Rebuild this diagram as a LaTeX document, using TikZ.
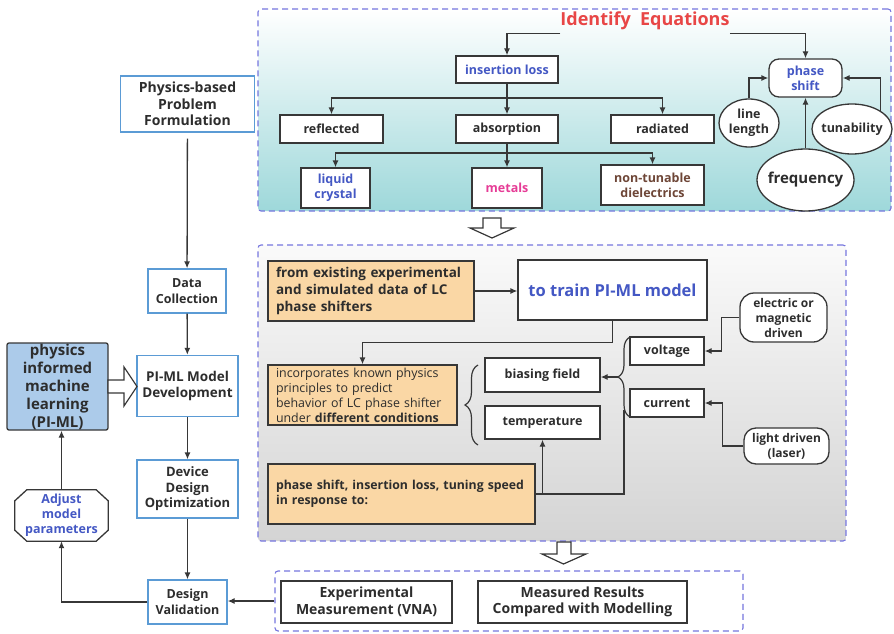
\documentclass[tikz,border=0pt]{standalone}
\usepackage{fontspec}
\setmainfont{Open Sans}
\usetikzlibrary{shapes,arrows.meta,decorations.pathreplacing}

\definecolor{boxblue}{RGB}{91,155,213}
\definecolor{dashblue}{RGB}{118,118,222}
\definecolor{txtdark}{RGB}{45,45,45}
\definecolor{linedark}{RGB}{55,55,55}
\definecolor{txtblue}{RGB}{68,88,196}
\definecolor{titlered}{RGB}{232,70,70}
\definecolor{metalpink}{RGB}{230,60,150}
\definecolor{dielbrown}{RGB}{110,70,55}
\definecolor{boxorange}{RGB}{250,215,165}
\definecolor{pimlfill}{RGB}{172,203,234}
\definecolor{tealbot}{RGB}{158,216,218}
\definecolor{graytop}{RGB}{250,250,250}
\definecolor{graybot}{RGB}{212,212,212}

\newcommand{\fsz}[2]{\fontsize{#1}{#2}\selectfont}

\begin{document}
\begin{tikzpicture}[auto, >={Latex[length=7pt,width=6pt]}, x=1pt, y=-1pt]
	\tikzset{
		panel/.style={rectangle, rounded corners=3pt, draw=dashblue, dash pattern=on 6pt off 4pt, line width=1.1pt, inner sep=0pt},
		flow/.style={rectangle, draw=boxblue, line width=1.3pt, fill=white, align=center, text=txtdark, font=\bfseries\fsz{12.5}{15.5}, inner sep=1pt},
		piml/.style={rectangle, rounded corners=2pt, draw=linedark, line width=1.3pt, fill=pimlfill, align=center, text=txtdark, font=\bfseries\fsz{15}{18}, inner sep=0pt},
		eqbox/.style={rectangle, draw=linedark, line width=1.3pt, fill=white, align=center, text=txtdark, font=\bfseries\fsz{12.5}{15}, inner sep=1pt},
		oval/.style={ellipse, draw=linedark, line width=1.3pt, fill=white, align=center, text=txtdark, font=\bfseries\fsz{12.5}{15}, inner xsep=-6pt, inner ysep=0pt},
		notebox/.style={rectangle, draw=linedark, line width=1.3pt, fill=boxorange, align=left, text=txtdark, font=\bfseries\fsz{12.3}{15}, inner xsep=8pt, inner ysep=0pt},
		conn/.style={->, draw=linedark, line width=1.3pt},
		hollow/.style={draw=linedark, line width=1.2pt, fill=white, line join=miter},
	}
	\useasboundingbox (0,0) rectangle (894,634);
	%Panels
	\node[panel, top color=white, bottom color=tealbot, minimum width=633pt, minimum height=202pt](eqpanel) at (574.5,110){};
	\node[panel, top color=graytop, bottom color=graybot, minimum width=588pt, minimum height=296pt](mlpanel) at (552,393){};
	\node[panel, fill=white, minimum width=468pt, minimum height=60pt](measpanel) at (509,601){};
	%Workflow
	\node[flow, minimum width=134pt, minimum height=56pt, font=\bfseries\fsz{14}{16.5}](prob) at (187.5,104){Physics-based\\Problem\\Formulation};
	\node[flow, minimum width=78pt, minimum height=44pt](data) at (187,291){Data\\Collection};
	\node[flow, minimum width=101pt, minimum height=61pt, font=\bfseries\fsz{13.5}{15.5}](dev) at (187.5,386){PI-ML Model\\Development};
	\node[flow, minimum width=101pt, minimum height=58pt, font=\bfseries\fsz{13}{15.5}](opt) at (187.5,489){Device\\Design\\Optimization};
	\node[flow, minimum width=79pt, minimum height=44pt](valid) at (187.5,602){Design\\Validation};
	\node[piml, minimum width=101pt, minimum height=87pt](piml) at (57.5,386.5){physics\\informed\\machine\\learning\\(PI-ML)};
	\node[align=center, text=txtblue, font=\bfseries\fsz{12.5}{15}, minimum width=93pt, minimum height=51pt, inner sep=0pt](adjust) at (61.5,515.5){Adjust\\model\\parameters};
	\draw[linedark, line width=1.3pt] ([xshift=12pt]adjust.north west) -- ([xshift=-12pt]adjust.north east) -- ([yshift=-11pt]adjust.north east) -- ([yshift=11pt]adjust.south east) -- ([xshift=-12pt]adjust.south east) -- ([xshift=12pt]adjust.south west) -- ([yshift=11pt]adjust.south west) -- ([yshift=-11pt]adjust.north west) -- cycle;
	%Equations
	\node[text=titlered, font=\bfseries\fsz{18}{20}, inner sep=0pt](title) at (645,21){Identify\ \ Equations};
	\node[eqbox, minimum width=102pt, minimum height=27pt, text=txtblue](il) at (507,69.5){insertion loss};
	\node[eqbox, minimum width=103pt, minimum height=28pt](refl) at (331.5,129){reflected};
	\node[eqbox, minimum width=102pt, minimum height=28pt](absn) at (507,129){absorption};
	\node[eqbox, minimum width=103pt, minimum height=28pt](rad) at (662.5,129){radiated};
	\node[eqbox, minimum width=69pt, minimum height=40pt, text=txtblue](lc) at (335.5,188){liquid\\crystal};
	\node[eqbox, minimum width=70pt, minimum height=40pt, text=metalpink](met) at (507,188){metals};
	\node[eqbox, minimum width=103pt, minimum height=40pt, text=dielbrown](ntd) at (652.5,185){non-tunable\\dielectrics};
	\node[eqbox, rounded corners=10pt, minimum width=73pt, minimum height=38pt, text=txtblue](ps) at (805.5,78){phase\\shift};
	\node[oval, minimum width=60pt, minimum height=48pt](ll) at (749,123){line\\length};
	\node[oval, minimum width=80pt, minimum height=50pt](tun) at (852,129){tunability};
	\node[oval, minimum width=97pt, minimum height=62pt, font=\bfseries\fsz{15}{17}](freq) at (805.5,180){frequency};
	%Model
	\node[notebox, text width=190pt, minimum height=60pt, font=\bfseries\fsz{13.5}{17}](exp) at (371,291){from existing experimental\\and simulated data of LC\\phase shifters};
	\node[eqbox, minimum width=189pt, minimum height=60pt, text=txtblue, font=\bfseries\fsz{16.5}{18}](train) at (612.5,290){to train PI-ML model};
	\node[notebox, text width=173pt, minimum height=60pt, font=\fsz{12.4}{15}](inc) at (362.5,395){incorporates known physics\\principles to predict\\behavior of LC phase shifter\\under \textbf{different conditions}};
	\node[eqbox, minimum width=115pt, minimum height=34pt](bf) at (542.5,375){biasing field};
	\node[eqbox, minimum width=115pt, minimum height=33pt](temp) at (542.5,422.5){temperature};
	\node[notebox, text width=251pt, minimum height=60pt](resp) at (401.5,494){phase shift, insertion loss, tuning speed\\in response to:};
	\node[eqbox, minimum width=74pt, minimum height=28pt](volt) at (667,351){voltage};
	\node[eqbox, minimum width=74pt, minimum height=28pt](curr) at (667,403){current};
	\node[eqbox, rounded corners=14pt, minimum width=87pt, minimum height=49pt, font=\bfseries\fsz{12}{15}](emd) at (783.5,317.5){electric or\\magnetic\\driven};
	\node[eqbox, rounded corners=12pt, minimum width=85pt, minimum height=36pt, font=\bfseries\fsz{12}{15}](ld) at (786.5,446){light driven\\(laser)};
	%Measurement
	\node[eqbox, minimum width=171pt, minimum height=42pt, font=\bfseries\fsz{14}{16.5}](vna) at (366.5,602){Experimental\\Measurement (VNA)};
	\node[eqbox, minimum width=209pt, minimum height=42pt, font=\bfseries\fsz{14}{16.5}](cmp) at (582.5,602){Measured Results\\Compared with Modelling};
	%Draw arrows
	\draw[conn, shorten <=6pt] (prob) -- (data);
	\draw[conn] (data) -- (dev);
	\draw[conn] (dev) -- (opt);
	\draw[conn] (opt) -- (valid);
	\draw[conn] (measpanel.west) -- (measpanel.west -| valid.east);
	\draw[conn] (valid.west) -| (adjust.south);
	\draw[conn] (adjust.north) -- (adjust.north |- piml.south);
	\draw[conn] ([yshift=-3pt]title.south west) -| (il);
	\draw[conn] ([yshift=-3pt]title.south east) -| (ps);
	\coordinate (ilfork) at (507,98);
	\coordinate (absfork) at (507,153);
	\draw[conn] (il) -- (absn);
	\draw[conn] (ilfork) -| (refl);
	\draw[conn] (ilfork) -| (rad);
	\draw[conn] (absn) -- (met);
	\draw[conn] (absfork) -| (lc);
	\draw[conn] (absfork) -| (ntd);
	\draw[conn] (ll) |- (ps);
	\draw[conn] (tun.north east) |- (ps);
	\draw[conn] (freq) -- (ps);
	\draw[conn] (exp) -- (exp -| train.west);
	\draw[conn] (train.south) -- ++(0,22) -| (inc);
	\draw[linedark, line width=1.2pt, decorate, decoration={brace, amplitude=13pt}] (478,445) -- (478,365);
	\draw[linedark, line width=1.2pt, decorate, decoration={brace, amplitude=12pt}] (630,417) -- (630,337);
	\coordinate (vctip) at (618,377);
	\coordinate (vcfoot) at (624,410);
	\draw[conn] (vctip) -- (bf.east |- vctip);
	\draw[draw=linedark, line width=1.3pt] (resp.east) -| (vcfoot);
	\draw[conn] (resp.east -| temp) -- (temp);
	\draw[conn] (emd.west) -- ++(-18,0) |- (volt);
	\draw[conn] (ld.west) -- ++(-21,0) |- (curr);
	%Hollow arrows
	\draw[hollow] (483,218) -- (501,218) -- (501,228) -- (514,228) -- (492,238) -- (470,228) -- (483,228) -- cycle;
	\draw[hollow] (557,542) -- (571,542) -- (571,554) -- (586,554) -- (563.5,564) -- (542,554) -- (557,554) -- cycle;
	\draw[hollow] (108,380) -- (124,380) -- (124,367) -- (137,386.5) -- (124,406) -- (124,393) -- (108,393) -- cycle;
\end{tikzpicture}
\end{document}
